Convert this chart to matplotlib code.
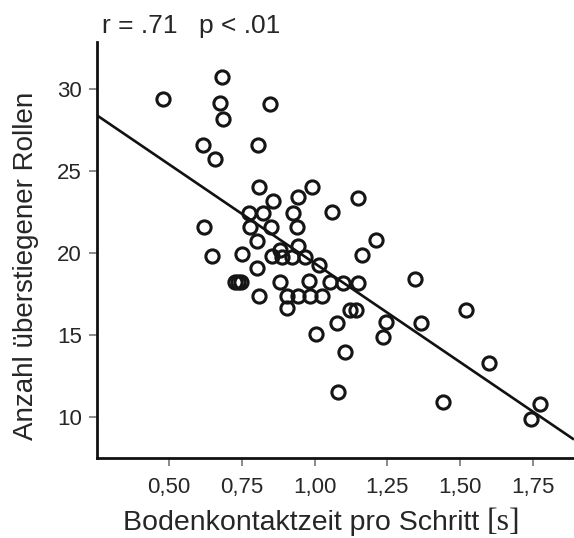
import matplotlib
matplotlib.use('Agg')
import matplotlib.pyplot as plt

# contact time per step [s] vs. number of rolls
contactTime = [0.479, 0.682, 0.675, 0.847, 0.685, 0.617, 0.806, 0.658,
               0.809, 0.991, 0.857, 0.943, 1.149, 0.775, 0.823, 0.926,
               1.060, 0.620, 0.778, 0.850, 0.940, 0.802, 0.943, 1.211,
               0.881, 0.648, 0.751, 0.854, 0.888, 0.922, 0.967, 1.163,
               1.015, 0.802, 0.727, 0.737, 0.747, 0.881, 0.981, 1.053,
               1.098, 1.149, 1.345, 0.809, 0.905, 0.943, 0.984, 1.025,
               0.905, 1.122, 1.142, 1.520, 1.077, 1.245, 1.365, 1.005,
               1.235, 1.104, 1.599, 1.080, 1.441, 1.774, 1.743]
rolls = [29.39, 30.73, 29.15, 29.09, 28.17, 26.59, 26.59, 25.73,
         24.02, 24.02, 23.17, 23.43, 23.35, 22.44, 22.44, 22.44,
         22.50, 21.59, 21.59, 21.59, 21.59, 20.73, 20.43, 20.79,
         20.18, 19.82, 19.94, 19.82, 19.76, 19.76, 19.76, 19.88,
         19.27, 19.09, 18.23, 18.23, 18.23, 18.23, 18.29, 18.23,
         18.17, 18.17, 18.41, 17.38, 17.38, 17.38, 17.38, 17.38,
         16.65, 16.52, 16.52, 16.52, 15.73, 15.79, 15.73, 15.06,
         14.88, 13.96, 13.29, 11.52, 10.91, 10.79, 9.88]

# regression line
fitIntercept = 31.45
fitSlope = -12.07

xTicks = [0.50, 0.75, 1.00, 1.25, 1.50, 1.75]
xTickLabels = ['0,50', '0,75', '1,00', '1,25', '1,50', '1,75']
yTicks = [10, 15, 20, 25, 30]

xLimit = [0.253, 1.891]
yLimit = [7.5, 32.87]

textCol = '#262626'
sans = 'Liberation Sans'

fig = plt.figure(figsize=(5.74, 5.38), dpi=100)
ax = fig.add_axes([0.169, 0.1487, 0.831, 0.7732])

ax.plot(xLimit, [fitIntercept + fitSlope * x for x in xLimit],
        color='#111111', lw=1.9, zorder=2, solid_capstyle='butt')
ax.plot(contactTime, rolls, ls='none', marker='o', ms=9.5, mew=2.2,
        mfc='none', mec='#151515', zorder=3)

ax.set_xlim(xLimit)
ax.set_ylim(yLimit)
for side in ['top', 'right']:
    ax.spines[side].set_visible(False)
for side in ['left', 'bottom']:
    ax.spines[side].set_linewidth(2.0)
    ax.spines[side].set_color('#111111')

ax.set_xticks(xTicks)
ax.set_xticklabels(xTickLabels)
ax.set_yticks(yTicks)
ax.tick_params(axis='both', direction='out', length=6, width=1.2,
               color='#777777', labelcolor=textCol, labelsize=16)
ax.tick_params(axis='x', pad=8)
ax.tick_params(axis='y', pad=5)
for lbl in ax.get_xticklabels() + ax.get_yticklabels():
    lbl.set_family(sans)

fig.text(0.178, 0.939, 'r = .71', family=sans, fontsize=19, color=textCol,
         va='baseline')
fig.text(0.347, 0.939, 'p < .01', family=sans, fontsize=19, color=textCol,
         va='baseline')

fig.text(0.045, 0.505, 'Anzahl überstiegener Rollen', family=sans,
         fontsize=20, color=textCol, rotation=90, ha='center', va='center')

xl = fig.text(0.214, 0.015, 'Bodenkontaktzeit pro Schritt ', family=sans,
              fontsize=20.5, color=textCol, va='baseline')
fig.canvas.draw()
bb = xl.get_window_extent()
fig.text(bb.x1 / fig.bbox.width, 0.015, '[s]', family='Liberation Serif',
         fontsize=23, color=textCol, va='baseline')

fig.savefig('out.png', dpi=100)
